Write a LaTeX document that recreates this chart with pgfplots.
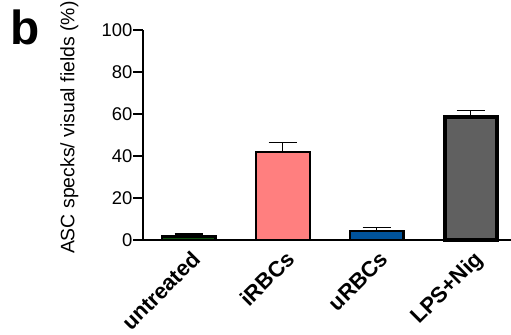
\documentclass[border=0pt]{standalone}
\usepackage{pgfplots}
\pgfplotsset{compat=1.18}
\usepackage{fontspec}
\setmainfont{Liberation Sans}
\definecolor{cgreen}{RGB}{15,85,15}
\definecolor{csalmon}{RGB}{255,127,127}
\definecolor{cblue}{RGB}{0,83,155}
\definecolor{cgray}{RGB}{96,96,96}
\begin{document}
\begin{tikzpicture}
\path[use as bounding box] (0,0) rectangle (511bp,335bp);
\begin{axis}[
  at={(143bp,95bp)}, anchor=south west,
  scale only axis, width=368bp, height=210bp,
  xmin=-0.484, xmax=3.43, ymin=0, ymax=100,
  axis x line*=bottom, axis y line*=left,
  axis line style={line width=1.5bp, -},
  ytick={0,20,40,60,80,100},
  xtick={0,1,2,3},
  xticklabels={untreated,iRBCs,uRBCs,LPS+Nig},
  major x tick style={draw=none},
  major y tick style={line width=1.2bp, black},
  tick align=outside, major tick length=10bp,
  /pgf/number format/assume math mode=true,
  yticklabel style={font=\fontsize{18.5}{21}\selectfont, inner xsep=0.5bp},
  xticklabel style={font=\fontsize{22}{25}\selectfont\bfseries, rotate=45, anchor=north east, inner sep=1bp, xshift=3bp},
  ylabel={ASC specks/ visual fields (\%)},
  ylabel style={font=\fontsize{19.5}{22}\selectfont, at={(axis description cs:-0.2,0.535)}, anchor=center},
  clip=false,
  ybar, bar shift=0pt,
  error bars/y dir=plus, error bars/y explicit,
  error bars/error bar style={line width=1.3bp, black},
  error bars/error mark options={rotate=90, mark size=14bp, line width=1.3bp, black},
]
\addplot[fill=cgreen, draw=black, line width=2.5bp, bar width=53.5bp] coordinates {(0,1.7) +- (0,1.2)};
\addplot[fill=csalmon, draw=black, line width=2bp, bar width=54bp] coordinates {(1,42.0) +- (0,4.3)};
\addplot[fill=cblue, draw=black, line width=2.5bp, bar width=53.5bp] coordinates {(2,4.3) +- (0,1.6)};
\addplot[fill=cgray, draw=black, line width=4bp, bar width=52bp] coordinates {(3,58.4) +- (0,3.4)};
\end{axis}
\node[anchor=base west, font=\fontsize{48}{50}\selectfont\bfseries, inner sep=0pt] at (10bp,290bp) {b};
\end{tikzpicture}
\end{document}
